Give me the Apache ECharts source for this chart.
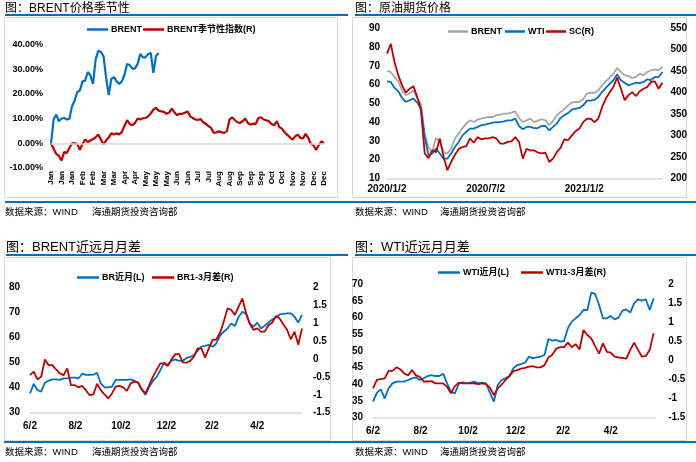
<!DOCTYPE html>
<html><head><meta charset="utf-8">
<script src="https://cdn.jsdelivr.net/npm/echarts@6/dist/echarts.min.js"></script>
<style>html,body{margin:0;padding:0;background:#fff;}#c{width:696px;height:462px;}</style>
</head><body><div id="c"></div>
<script>
// ---------- Chart 1: BRENT seasonality ----------
const seasonTicks = ['Jan','Jan','Jan','Feb','Feb','Mar','Mar','Apr','Apr','May','May','May','Jun','Jun','Jul','Jul','Aug','Aug','Sep','Sep','Sep','Oct','Oct','Nov','Nov','Dec','Dec'];
const brentSeason = [0, 9.6, 11.6, 8.9, 10.0, 10.2, 9.6, 9.8, 15.0, 17.2, 20.7, 21.3, 25.0, 25.3, 28.8, 27.5, 24.0, 33.8, 37.4, 36.9, 35.2, 26.4, 19.5, 26.1, 26.7, 25.0, 24.0, 25.0, 27.7, 32.1, 31.5, 30.2, 30.2, 32.1, 36.1, 34.7, 34.7, 36.1, 36.5, 28.5, 35.2, 36.5];
const brentSeasonIdx = [0, -2.2, -4.3, -5.1, -7.0, -3.6, -3.9, -1.9, 0, 0,
  -0.3, -2.6, -0.3, 1.5, 0.5, 1.1, 1.6, 2.4, 3.5, 1.5,
  -0.5, 1.1, 2.4, 4.0, 3.5, 4.0, 3.6, 4.6, 7.1, 9.3,
  7.8, 7.3, 8.2, 10.0, 9.6, 10.1, 10.2, 10.9, 12.0, 13.6,
  14.3, 13.2, 12.9, 12.7, 11.9, 12.4, 14.0, 12.5, 11.3, 11.9,
  11.9, 12.3, 12.9, 10.9, 10.2, 9.6, 9.4, 9.8, 8.5, 7.8,
  6.9, 6.2, 4.2, 4.4, 4.8, 4.4, 4.2, 4.8, 9.6, 10.5,
  9.4, 8.5, 8.2, 8.9, 10.0, 8.2, 7.5, 7.9, 7.8, 10.2,
  10.5, 9.6, 9.3, 8.9, 7.8, 7.3, 8.9, 6.5, 5.9, 4.4,
  3.4, 2.4, 1.5, 2.8, 3.5, 2.2, 1.9, 3.8, 2.2, -0.3,
  -0.8, -2.7, -0.8, 0.8, 0];
const seasonSubSteps = 4; // data points between two tick labels

// ---------- Chart 2: crude futures prices (weekly samples from 2020/1/2) ----------
const priceTicks = ['2020/1/2', '2020/7/2', '2021/1/2'];
const priceStepDays = 7;
const brentPx = [67.1, 66.7, 64.0, 61.7, 56.9, 54.3, 55.2, 56.9, 52.8, 49.8, 33.8, 26.7, 24.0, 31.5, 29.4, 24.0, 23.2, 25.8, 31.2, 33.8, 36.8, 39.2, 40.9, 40.0, 41.3, 41.8, 42.4, 42.7, 42.7, 43.6, 44.0, 44.5, 44.5, 45.0, 45.7, 42.2, 40.0, 40.9, 41.8, 40.0, 40.8, 41.5, 40.9, 38.3, 40.6, 43.6, 45.4, 46.8, 48.9, 50.4, 50.7, 50.7, 52.1, 55.2, 55.7, 55.5, 56.9, 59.6, 61.7, 63.7, 65.8, 68.8, 66.7, 64.9, 64.6, 63.5, 64.0, 65.8, 64.9, 66.7, 67.6, 68.1, 67.6, 69.4];
const wtiPx = [61.7, 61.4, 58.2, 56.4, 52.8, 50.7, 51.6, 52.5, 50.4, 47.2, 32.0, 22.3, 23.2, 25.8, 23.2, 20.5, 20.5, 23.2, 26.7, 29.4, 32.9, 34.7, 36.5, 36.5, 37.4, 38.3, 38.6, 39.2, 39.7, 40.0, 40.0, 40.4, 40.9, 40.9, 41.8, 37.9, 36.1, 37.4, 37.4, 36.8, 36.8, 37.9, 37.9, 35.6, 37.4, 39.2, 42.2, 43.6, 44.8, 46.6, 47.2, 47.5, 48.9, 51.4, 51.4, 51.8, 53.4, 56.0, 58.2, 60.3, 62.3, 65.3, 62.3, 61.0, 59.6, 60.3, 61.0, 60.8, 61.4, 62.8, 62.4, 64.0, 64.0, 66.7];
const scPx = [491, 514, 471, 440, 417, 400, 409, 415, 390, 359, 258, 247, 265, 261, 293, 250, 219, 238, 255, 268, 273, 275, 293, 283, 296, 291, 293, 293, 296, 293, 281, 281, 285, 286, 296, 285, 246, 269, 265, 265, 260, 258, 260, 238, 246, 261, 271, 291, 289, 300, 310, 316, 331, 339, 339, 331, 339, 366, 386, 400, 413, 435, 409, 382, 394, 401, 392, 403, 409, 413, 425, 426, 409, 423];

// ---------- Chart 3 / 4: near month and 1-3 spread (5-day samples from 6/2) ----------
const spreadTicks = ['6/2', '8/2', '10/2', '12/2', '2/2', '4/2'];
const spreadStepDays = 5;
const brNear = [37.7, 41.5, 39.1, 38.4, 42.0, 42.8, 43.3, 43.3, 43.1, 43.7, 43.7, 44.0, 44.0, 43.7, 45.6, 45.1, 45.1, 45.2, 46.0, 41.7, 40.1, 40.1, 40.4, 43.1, 43.1, 43.1, 43.1, 43.3, 42.8, 42.0, 39.3, 37.1, 40.4, 42.7, 44.3, 47.1, 50.0, 49.1, 50.8, 51.3, 50.7, 50.8, 51.9, 52.3, 53.1, 54.8, 56.4, 56.7, 57.1, 56.4, 57.7, 60.8, 62.4, 63.7, 65.7, 64.7, 68.4, 70.4, 69.5, 65.7, 64.4, 66.0, 63.7, 64.8, 66.1, 67.3, 68.1, 69.3, 69.5, 69.7, 69.7, 68.4, 66.0, 69.1];
const brSpread = [-0.45, -0.35, -0.57, -0.49, -0.01, -0.17, -0.17, -0.29, -0.40, -0.45, -0.26, -0.73, -0.73, -0.79, -0.75, -0.87, -1.01, -0.99, -0.69, -0.87, -0.99, -1.10, -0.96, -0.77, -0.75, -0.79, -0.89, -0.68, -0.63, -0.65, -0.85, -0.96, -0.73, -0.49, -0.30, -0.12, -0.12, -0.19, 0.00, 0.14, 0.14, -0.09, -0.10, -0.05, 0.07, 0.30, 0.30, 0.04, 0.30, 0.54, 0.55, 0.74, 1.05, 1.42, 1.38, 1.24, 1.47, 1.70, 1.28, 0.98, 0.82, 0.86, 0.77, 0.77, 0.95, 1.02, 1.21, 1.14, 0.97, 0.82, 0.55, 0.77, 0.40, 0.86];
const wtiNear = [34.8, 37.5, 38.5, 35.8, 38.8, 40.3, 40.8, 40.8, 40.8, 41.3, 41.8, 42.1, 41.3, 41.8, 42.5, 42.8, 42.5, 42.5, 43.2, 40.3, 37.8, 37.3, 40.1, 40.6, 40.3, 40.5, 40.8, 40.3, 40.5, 40.3, 37.5, 34.8, 39.8, 41.3, 41.8, 42.5, 44.8, 45.8, 46.1, 46.5, 48.3, 47.8, 48.1, 48.3, 48.8, 53.6, 53.1, 53.3, 52.8, 53.0, 56.8, 58.8, 59.8, 60.8, 62.3, 62.3, 67.5, 67.1, 63.8, 59.8, 59.8, 60.5, 59.5, 60.0, 62.1, 62.5, 61.5, 64.3, 65.5, 65.1, 65.5, 62.3, 65.8];
const wtiSpread = [-0.73, -0.51, -0.49, -0.47, -0.27, -0.27, -0.18, -0.23, -0.34, -0.39, -0.25, -0.39, -0.43, -0.55, -0.55, -0.54, -0.60, -0.60, -0.60, -0.69, -0.86, -0.67, -0.58, -0.60, -0.60, -0.60, -0.60, -0.62, -0.60, -0.62, -0.71, -0.91, -0.73, -0.63, -0.51, -0.41, -0.28, -0.25, -0.21, -0.19, -0.16, -0.15, -0.18, -0.18, -0.12, 0.08, 0.15, 0.31, 0.35, 0.35, 0.47, 0.35, 0.43, 0.29, 0.80, 0.67, 0.58, 0.38, 0.18, 0.45, 0.23, 0.21, 0.10, 0.08, 0.07, 0.05, 0.28, 0.47, 0.28, 0.10, 0.12, 0.28, 0.72];

// ---------- build ----------
const FONT = '"Liberation Sans", Arial, "Noto Sans CJK SC", sans-serif';
const BLUE = '#0070c0', RED = '#c00000', GRAY = '#a6a6a6', AXIS = '#d9d9d9';
const seasonCats = [];
for (let i = 0; i < (seasonTicks.length - 1) * seasonSubSteps + 1; i++) seasonCats.push(String(i));
const toXY = (arr, step) => arr.map((v, i) => [i * step, v]);

function tickFmt(labels, interval) {
  return function (v) { const k = v / interval; return Number.isInteger(k) && labels[k] ? labels[k] : ''; };
}
const lbl = (size, extra) => Object.assign({ color: '#000', fontFamily: FONT, fontWeight: 'bold', fontSize: size }, extra || {});

function valX(grid, max, interval, labels, margin) {
  return { type: 'value', gridIndex: grid, min: 0, max: max, interval: interval,
    axisLine: { show: true, onZero: false, lineStyle: { color: AXIS, width: 1.5 } },
    axisTick: { show: false }, splitLine: { show: false },
    axisLabel: lbl(10, { margin: margin, formatter: tickFmt(labels, interval) }) };
}
function valY(grid, pos, min, max, interval, size, margin, fmt) {
  const a = { type: 'value', gridIndex: grid, position: pos, min: min, max: max, interval: interval,
    axisLine: { show: false }, axisTick: { show: false }, splitLine: { show: false },
    axisLabel: lbl(size, { margin: margin }) };
  if (fmt) a.axisLabel.formatter = fmt;
  return a;
}
function lineSeries(name, x, y, data, color, w) {
  return { name: name, type: 'line', xAxisIndex: x, yAxisIndex: y, data: data, symbol: 'none',
    lineStyle: { color: color, width: w }, itemStyle: { color: color }, animation: false };
}
function leg(name, left, cy, iw) {
  return { data: [name], left: left, top: cy - 6, padding: 0, itemGap: 0, itemWidth: iw || 21, itemHeight: 2.5,
    icon: 'rect', formatter: n => n.trim(), textStyle: lbl(9, { padding: [0, 0, 0, -2] }) };
}
function txt(text, x, y, size, weight) {
  return { type: 'text', x: x, y: y, silent: true,
    style: { text: text, fill: '#000', fontSize: size, fontFamily: FONT, fontWeight: weight || 'normal', verticalAlign: 'middle', align: 'left' } };
}
function hline(x1, x2, y) {
  return { type: 'line', silent: true, shape: { x1: x1, y1: y, x2: x2, y2: y }, style: { stroke: BLUE, lineWidth: 2 } };
}
function box(x, y, w, h) {
  return { type: 'rect', silent: true, z: -10, shape: { x: x, y: y, width: w, height: h }, style: { fill: 'none', stroke: AXIS, lineWidth: 1 } };
}

const chart = echarts.init(document.getElementById('c'), null, { renderer: 'canvas' });
chart.setOption({
  backgroundColor: '#fff',
  animation: false,
  grid: [
    { left: 51, top: 44.3, width: 273, height: 123.7 },
    { left: 387, top: 28.3, width: 275.4, height: 150 },
    { left: 30, top: 287.7, width: 272, height: 125 },
    { left: 373, top: 284.3, width: 282.2, height: 133.4 }
  ],
  xAxis: [
    { type: 'category', gridIndex: 0, data: seasonCats, boundaryGap: false,
      axisLine: { show: false }, axisTick: { show: false }, splitLine: { show: false },
      axisLabel: lbl(8, { interval: seasonSubSteps - 1, rotate: 90, margin: 3,
        formatter: (v, i) => seasonTicks[Math.round(Number(v) / seasonSubSteps)] }) },
    valX(1, (brentPx.length - 1) * priceStepDays, 183, priceTicks, 6),
    valX(2, (brNear.length - 1) * spreadStepDays, 61, spreadTicks, 9),
    valX(3, (wtiNear.length - 1) * spreadStepDays + 2, 61, spreadTicks, 9)
  ],
  yAxis: [
    valY(0, 'left', -10, 40, 10, 9, 8, v => v.toFixed(2) + '%'),
    valY(1, 'left', 10, 90, 10, 10, 7),
    valY(1, 'right', 200, 550, 50, 10, 8),
    valY(2, 'left', 30, 80, 10, 10, 10),
    valY(2, 'right', -1.5, 2, 0.5, 10, 11),
    valY(3, 'left', 30, 70, 5, 10, 10),
    valY(3, 'right', -1.5, 2, 0.5, 10, 13)
  ],
  legend: [
    leg('BRENT', 87, 31), leg('BRENT季节性指数(R)', 143, 31),
    leg('BRENT ', 448, 33, 20), leg('WTI', 505, 33, 20), leg('SC(R)', 546, 33, 20),
    leg('BR近月(L)', 77, 279, 22), leg('BR1-3月差(R)', 152, 279, 22),
    leg('WTI近月(L)', 438, 274, 22), leg('WTI1-3月差(R)', 521, 274, 22)
  ],
  series: [
    lineSeries('BRENT', 0, 0, brentSeason, BLUE, 2.2),
    Object.assign(lineSeries('BRENT季节性指数(R)', 0, 0, brentSeasonIdx, RED, 2.2), {
      markLine: { silent: true, symbol: 'none', label: { show: false }, animation: false,
        lineStyle: { color: AXIS, type: 'solid', width: 1.5 }, data: [{ yAxis: 0 }] } }),
    lineSeries('BRENT ', 1, 1, toXY(brentPx, priceStepDays), GRAY, 1.8),
    lineSeries('WTI', 1, 1, toXY(wtiPx, priceStepDays), BLUE, 1.8),
    lineSeries('SC(R)', 1, 2, toXY(scPx, priceStepDays), RED, 1.8),
    lineSeries('BR近月(L)', 2, 3, toXY(brNear, spreadStepDays), BLUE, 1.8),
    lineSeries('BR1-3月差(R)', 2, 4, toXY(brSpread, spreadStepDays), RED, 1.8),
    lineSeries('WTI近月(L)', 3, 5, toXY(wtiNear, spreadStepDays), BLUE, 1.8),
    lineSeries('WTI1-3月差(R)', 3, 6, toXY(wtiSpread, spreadStepDays), RED, 1.8)
  ],
  graphic: [
    box(4.5, 17.5, 333, 180), box(352.5, 17.5, 334, 180),
    box(4.5, 257.5, 326, 183), box(352.5, 257.5, 334, 183),
    hline(5, 348, 15), hline(355, 696, 15), hline(5, 696, 202),
    hline(6, 348, 255), hline(355, 696, 255), hline(4, 696, 442),
    txt('图：BRENT价格季节性', 5, 9, 12), txt('图：原油期货价格', 355, 9, 12),
    txt('图：BRENT近远月月差', 6, 247, 13), txt('图：WTI近远月月差', 355, 247, 13),
    txt('数据来源：WIND', 5, 212, 9.5), txt('海通期货投资咨询部', 92, 212, 9.5),
    txt('数据来源：WIND', 355, 212, 9.5), txt('海通期货投资咨询部', 440, 212, 9.5),
    txt('数据来源：WIND', 5, 452, 9.5), txt('海通期货投资咨询部', 92, 452, 9.5),
    txt('数据来源：WIND', 355, 452, 9.5), txt('海通期货投资咨询部', 440, 452, 9.5)
  ]
});
</script>
</body></html>
